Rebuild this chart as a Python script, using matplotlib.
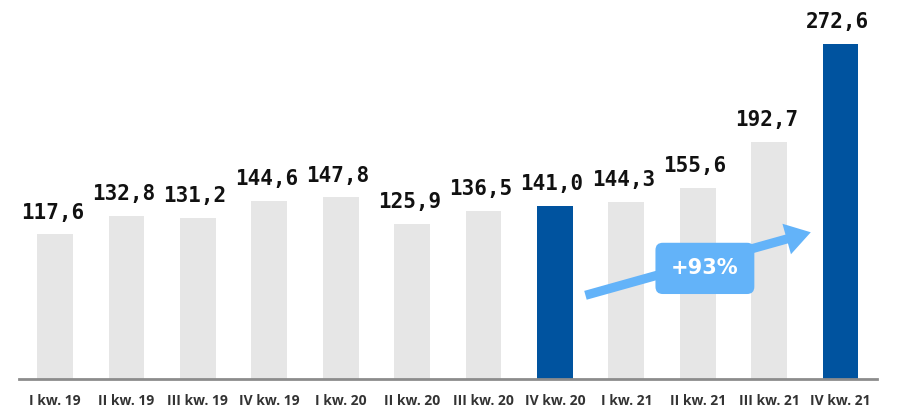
import matplotlib
matplotlib.use("Agg")
import matplotlib.pyplot as plt
from matplotlib.patches import FancyArrowPatch

quarters = ["I kw. 19", "II kw. 19", "III kw. 19", "IV kw. 19", "I kw. 20", "II kw. 20",
            "III kw. 20", "IV kw. 20", "I kw. 21", "II kw. 21", "III kw. 21", "IV kw. 21"]
values = [117.6, 132.8, 131.2, 144.6, 147.8, 125.9, 136.5, 141.0, 144.3, 155.6, 192.7, 272.6]
highlight = ["IV kw. 20", "IV kw. 21"]
growth_label = "+93%"

gray = "#E6E6E6"
blue = "#00539F"
light_blue = "#63B3F9"

fig = plt.figure(figsize=(9.02, 4.11), dpi=100)
ax = fig.add_axes([19 / 902, 32 / 411, 858 / 902, 379 / 411])

x = list(range(len(values)))
colors = [blue if q in highlight else gray for q in quarters]
ax.bar(x, values, width=0.5, color=colors)

for xi, v in zip(x, values):
    ax.annotate(f"{v:.1f}".replace(".", ","), (xi, v), xytext=(-2, 8.5), textcoords="offset points",
                ha="center", va="bottom", fontsize=15, fontweight="bold",
                family="DejaVu Sans Mono", color="#111111")

ax.set_xlim(-0.505, 11.51)
ax.set_ylim(0, 308.4)
ax.set_xticks(x)
ax.set_xticklabels(quarters, fontsize=10, fontweight="bold", family="Open Sans", color="#333333")
ax.tick_params(axis="x", length=0, pad=11)
ax.set_yticks([])
for s in ["top", "left", "right"]:
    ax.spines[s].set_visible(False)
ax.spines["bottom"].set_color("#8C8C8C")
ax.spines["bottom"].set_linewidth(2)

# growth arrow from IV kw. 20 to IV kw. 21
arrow = FancyArrowPatch((7.39, 67.5), (10.62, 120.0),
                        arrowstyle="simple,head_length=1.5,head_width=1.9,tail_width=0.55",
                        mutation_scale=12, color=light_blue, lw=0, zorder=3)
ax.add_patch(arrow)
ax.text(9.1, 90, growth_label, ha="center", va="center", fontsize=15, fontweight="bold",
        color="white", zorder=4,
        bbox=dict(boxstyle="round,pad=0.75,rounding_size=0.35", fc=light_blue, ec="none"))

fig.savefig("out.png", dpi=100)
